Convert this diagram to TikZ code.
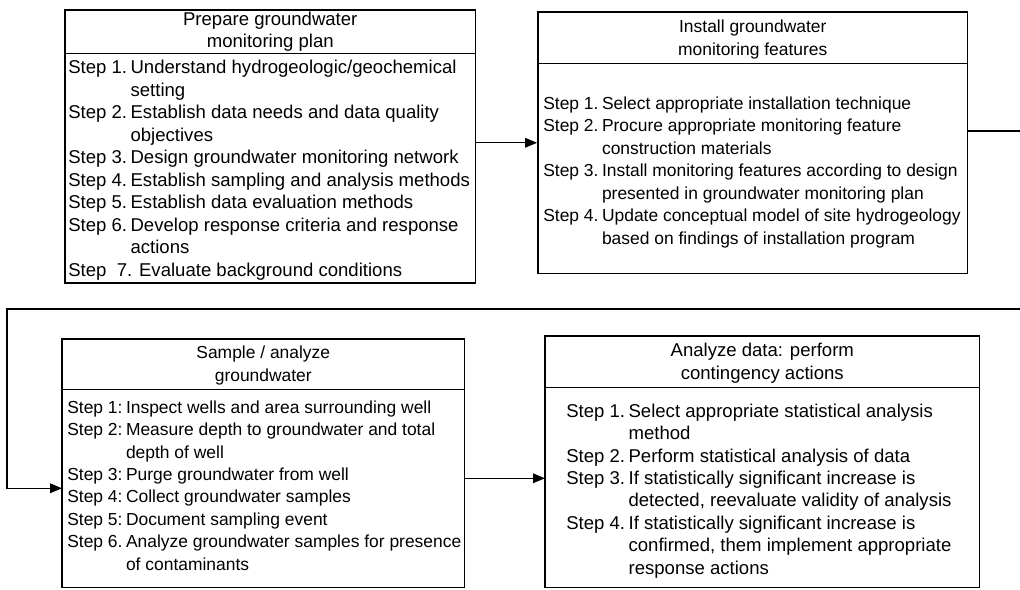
\documentclass[tikz,border=0pt]{standalone}
\usepackage{fontspec}
\setmainfont{Liberation Sans}
\usetikzlibrary{arrows.meta, positioning, fit, calc}

\newcommand{\smallsteps}{\fontsize{12.4}{16}\selectfont}

\begin{document}
\begin{tikzpicture}[
    font=\fontsize{13.2}{16}\selectfont,
    head/.style={anchor=north west, inner sep=0pt, align=center},
    body/.style={anchor=north west, inner sep=0pt},
    frame/.style={draw, line width=1.3pt, inner sep=0pt},
    divider/.style={line width=0.6pt},
    link/.style={line width=1pt},
    arrow/.style={-{Triangle[length=3mm, width=2.4mm]}, line width=1pt},
]

\useasboundingbox (0,0) rectangle (25.5,14.725);

% Plan box
\node[head, minimum width=10.25cm, minimum height=1.075cm] (head1) at (1.625,14.475) {Prepare groundwater\\monitoring plan};
\node[body] (body1) at (head1.south west) {\parbox[c][5.725cm][t]{10.25cm}{\vspace*{0.1cm}\hspace*{0.075cm}%
\begin{tabular}{@{}l@{\hspace{2.5pt}}l@{}}
Step 1. & Understand hydrogeologic/geochemical\\
        & setting\\
Step 2. & Establish data needs and data quality\\
        & objectives\\
Step 3. & Design groundwater monitoring network\\
Step 4. & Establish sampling and analysis methods\\
Step 5. & Establish data evaluation methods\\
Step 6. & Develop response criteria and response\\
        & actions\\
\multicolumn{2}{@{}l@{}}{Step\ \ 7. Evaluate background conditions}
\end{tabular}}};
\node[frame, fit=(head1)(body1)] (box1) {};
\draw[divider] (head1.south west) -- (head1.south east);

% Install box
\node[head, font=\smallsteps, minimum width=10.725cm, minimum height=1.35cm] (head2) at (13.45,14.425) {Install groundwater\\monitoring features};
\node[body] (body2) at (13.45,13.15) {\parbox[c][5.25cm][c]{10.725cm}{\smallsteps\vspace*{0.2cm}\hspace*{0.125cm}%
\begin{tabular}{@{}l@{\hspace{2.5pt}}l@{}}
Step 1. & Select appropriate installation technique\\
Step 2. & Procure appropriate monitoring feature\\
        & construction materials\\
Step 3. & Install monitoring features according to design\\
        & presented in groundwater monitoring plan\\
Step 4. & Update conceptual model of site hydrogeology\\
        & based on findings of installation program
\end{tabular}}};
\node[frame, fit=(head2)(body2)] (box2) {};
\draw[divider] (body2.north west) -- (body2.north east);

% Sample box
\node[head, font=\smallsteps, minimum width=10.05cm, minimum height=1.3cm] (head3) at (1.55,6.25) {Sample / analyze\\groundwater};
\node[body] (body3) at (1.55,5.0) {\parbox[c][4.95cm][t]{10.05cm}{\smallsteps\vspace*{0.2cm}\hspace*{0.125cm}%
\begin{tabular}{@{}l@{\hspace{2.5pt}}l@{}}
Step 1: & Inspect wells and area surrounding well\\
Step 2: & Measure depth to groundwater and total\\
        & depth of well\\
Step 3: & Purge groundwater from well\\
Step 4: & Collect groundwater samples\\
Step 5: & Document sampling event\\
Step 6. & Analyze groundwater samples for presence\\
        & of contaminants
\end{tabular}}};
\node[frame, fit=(head3)(body3)] (box3) {};
\draw[divider] (body3.north west) -- (body3.north east);

% Analyze box
\node[head, minimum width=10.85cm, minimum height=1.35cm] (head4) at (13.625,6.325) {Analyze data: perform\\contingency actions};
\node[body] (body4) at (13.625,5.05) {\parbox[c][5cm][t]{10.85cm}{\vspace*{0.35cm}\hspace*{0.525cm}%
\begin{tabular}{@{}l@{\hspace{2.5pt}}l@{}}
Step 1. & Select appropriate statistical analysis\\
        & method\\
Step 2. & Perform statistical analysis of data\\
Step 3. & If statistically significant increase is\\
        & detected, reevaluate validity of analysis\\
Step 4. & If statistically significant increase is\\
        & confirmed, them implement appropriate\\
        & response actions
\end{tabular}}};
\node[frame, fit=(head4)(body4)] (box4) {};
\draw[divider] (body4.north west) -- (body4.north east);

% Connectors
\coordinate (exit) at (25.5,11.45);
\coordinate (loopin) at (25.5,7.0);
\coordinate (loopcorner) at (0.175,7.0);
\draw[arrow] (box1.east |- box2.west) -- (box2.west);
\draw[link] (box2.east |- exit) -- (exit);
\draw[arrow] (loopin) -- (loopcorner) |- (body3.west);
\draw[arrow] ([yshift=0.25cm]body3.east) -- ([yshift=0.25cm]body3.east -| body4.west);

\end{tikzpicture}
\end{document}
